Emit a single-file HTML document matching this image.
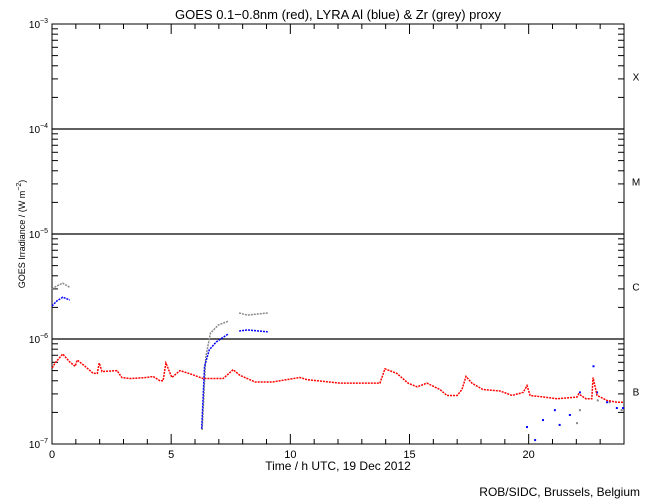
<!DOCTYPE html>
<html><head><meta charset="utf-8"><style>
body{margin:0;background:#fff}
svg{display:block;font-family:"Liberation Sans",sans-serif}
</style></head><body>
<svg id="c" width="650" height="500" xmlns="http://www.w3.org/2000/svg">
<rect width="650" height="500" fill="#fff"/>
<text x="338" y="19" font-size="13" text-anchor="middle">GOES 0.1−0.8nm (red), LYRA Al (blue) &amp; Zr (grey) proxy</text>
<text x="338" y="470" font-size="12" text-anchor="middle">Time / h UTC, 19 Dec 2012</text>
<text x="640" y="496" font-size="12" text-anchor="end">ROB/SIDC, Brussels, Belgium</text>
<text transform="translate(25,234) rotate(-90)" font-size="9" text-anchor="middle">GOES Irradiance / (W m<tspan dy="-4" font-size="7">−2</tspan><tspan dy="4">)</tspan></text>
<g id="axes"></g>
<g id="marks"></g>
</svg>
<script>
const hoursRed=[0.01,0.13,0.45,0.76,0.97,1.06,1.3,1.51,1.73,1.9,1.98,2.1,2.73,2.93,3.27,3.98,4.24,4.53,4.66,4.78,5.03,5.37,5.87,6.34,7.18,7.6,7.89,8.52,9.27,10.4,10.7,12.08,13.76,13.97,14.47,14.94,15.32,15.73,16.28,16.57,17.0,17.2,17.37,17.62,18.08,18.8,19.3,19.77,19.93,20.06,21.19,22.03,22.1,22.4,22.65,22.7,22.87,23.29,23.7,23.96];
const valuesRed=[5.3e-7,5.9e-7,7.2e-7,6.0e-7,5.5e-7,6.3e-7,5.7e-7,5.2e-7,4.7e-7,4.7e-7,5.9e-7,4.9e-7,5.0e-7,4.3e-7,4.2e-7,4.3e-7,4.4e-7,4.0e-7,4.0e-7,5.9e-7,4.3e-7,5.0e-7,4.6e-7,4.2e-7,4.2e-7,5.1e-7,4.5e-7,3.9e-7,3.9e-7,4.3e-7,4.1e-7,3.8e-7,3.8e-7,5.2e-7,4.7e-7,3.8e-7,3.5e-7,3.8e-7,3.3e-7,2.9e-7,2.9e-7,3.3e-7,4.4e-7,3.8e-7,3.3e-7,3.2e-7,2.9e-7,3.1e-7,3.6e-7,2.9e-7,2.7e-7,2.8e-7,3.0e-7,2.7e-7,2.7e-7,4.3e-7,2.9e-7,2.6e-7,2.5e-7,2.5e-7];
const hoursBlue1=[0.0,0.2,0.45,0.75];
const valuesBlue1=[2.06e-6,2.3e-6,2.5e-6,2.35e-6];
const hoursGrey1=[0.0,0.2,0.45,0.75];
const valuesGrey1=[3.0e-6,3.2e-6,3.4e-6,3.1e-6];
const hoursBlue2=[6.28,6.4,6.6,6.9,7.4];
const valuesBlue2=[1.4e-7,5.5e-7,7.9e-7,9.4e-7,1.12e-6];
const hoursGrey2=[6.3,6.45,6.65,6.98,7.4];
const valuesGrey2=[1.36e-7,6.7e-7,1.14e-6,1.36e-6,1.48e-6];
const hoursBlue3=[7.85,8.2,9.05];
const valuesBlue3=[1.19e-6,1.22e-6,1.17e-6];
const hoursGrey3=[7.85,8.2,9.05];
const valuesGrey3=[1.77e-6,1.69e-6,1.77e-6];
const hoursBlueLate=[19.93,20.27,20.6,21.1,21.3,21.73,22.15,22.72,22.87,23.29,23.7,23.96];
const valuesBlueLate=[1.45e-7,1.09e-7,1.69e-7,2.1e-7,1.52e-7,1.89e-7,3.1e-7,5.5e-7,3.1e-7,2.5e-7,2.2e-7,2.2e-7];
const hoursGreyLate=[22.03,22.15,22.9,23.4,23.9];
const valuesGreyLate=[1.58e-7,2.1e-7,2.6e-7,2.5e-7,2.1e-7];
const xTicks=[0,5,10,15,20];
const decades=[-7,-6,-5,-4,-3];
const classLabels=["B","C","M","X"];

const NS="http://www.w3.org/2000/svg";
const L=52,R=624,T=24,B=444;
const xs=h=>L+h/24*(R-L);
const ys=v=>B-(Math.log10(v)+7)*(B-T)/4;
function el(tag,at,parent){const e=document.createElementNS(NS,tag);for(const k in at)e.setAttribute(k,at[k]);parent.appendChild(e);return e;}
const ax=document.getElementById('axes'),mk=document.getElementById('marks');
const frame=el('rect',{x:L,y:T,width:R-L,height:B-T,fill:'none',stroke:'#000','stroke-width':1},ax);


// y ticks
decades.forEach(d=>{
  for(let m=1;m<=9;m++){
    if(d===-3&&m>1)break;
    const y=ys(m*Math.pow(10,d));
    const len=m===1?10:6;
    const t1=el('line',{x1:L,x2:L+len,y1:y,y2:y,stroke:'#000'},ax);
    
    
    const t2=el('line',{x1:R,x2:R-len,y1:y,y2:y,stroke:'#000'},ax);
    
    
  }
  const y=ys(Math.pow(10,d));
  const lb=el('text',{x:L-4,y:y+4,'font-size':10,'text-anchor':'end'},ax);
  lb.innerHTML='10<tspan dy="-5" font-size="7">'+(d<0?'−':'')+Math.abs(d)+'</tspan>';
  
  
  if(d>-7&&d<-3){
    const g=el('line',{x1:L,x2:R,y1:y,y2:y,stroke:'#000','stroke-width':1.3},ax);
    
    
  }
});
classLabels.forEach((c,i)=>{
  const t=el('text',{x:636,y:ys(Math.pow(10,-7+i+0.5))+4,'font-size':10,'text-anchor':'middle'},ax);
  t.textContent=c;
  
  
});
for(let h=0;h<=24;h++){
  const len=h%5===0?10:5,x=xs(h);
  const a=el('line',{x1:x,x2:x,y1:B,y2:B-len,stroke:'#000'},ax);
  
  
  const b=el('line',{x1:x,x2:x,y1:T,y2:T+len,stroke:'#000'},ax);
  
  
}
xTicks.forEach(h=>{
  const t=el('text',{x:xs(h),y:458,'font-size':11,'text-anchor':'middle'},ax);
  t.textContent=h;
  
  
});
function line(hs,vs,color,name){
  const p=el('polyline',{points:hs.map((h,i)=>xs(h)+','+ys(vs[i])).join(' '),fill:'none',stroke:color,'stroke-width':1.5,'stroke-dasharray':'2 1'},mk);
  
  
}
function dots(hs,vs,color,name){
  hs.forEach((h,i)=>{
    const r=el('rect',{x:xs(h)-1,y:ys(vs[i])-1,width:2,height:2,fill:color},mk);
    
    
  });
}
line(hoursGrey1,valuesGrey1,'#888','zr-proxy-series');
line(hoursGrey2,valuesGrey2,'#888','zr-proxy-series');
line(hoursGrey3,valuesGrey3,'#888','zr-proxy-series');
line(hoursBlue1,valuesBlue1,'#00f','al-proxy-series');
line(hoursBlue2,valuesBlue2,'#00f','al-proxy-series');
line(hoursBlue3,valuesBlue3,'#00f','al-proxy-series');
dots(hoursGreyLate,valuesGreyLate,'#888','zr-proxy-point');
dots(hoursBlueLate,valuesBlueLate,'#00f','al-proxy-point');
line(hoursRed,valuesRed,'#f00','goes-series');
</script>
</body></html>
